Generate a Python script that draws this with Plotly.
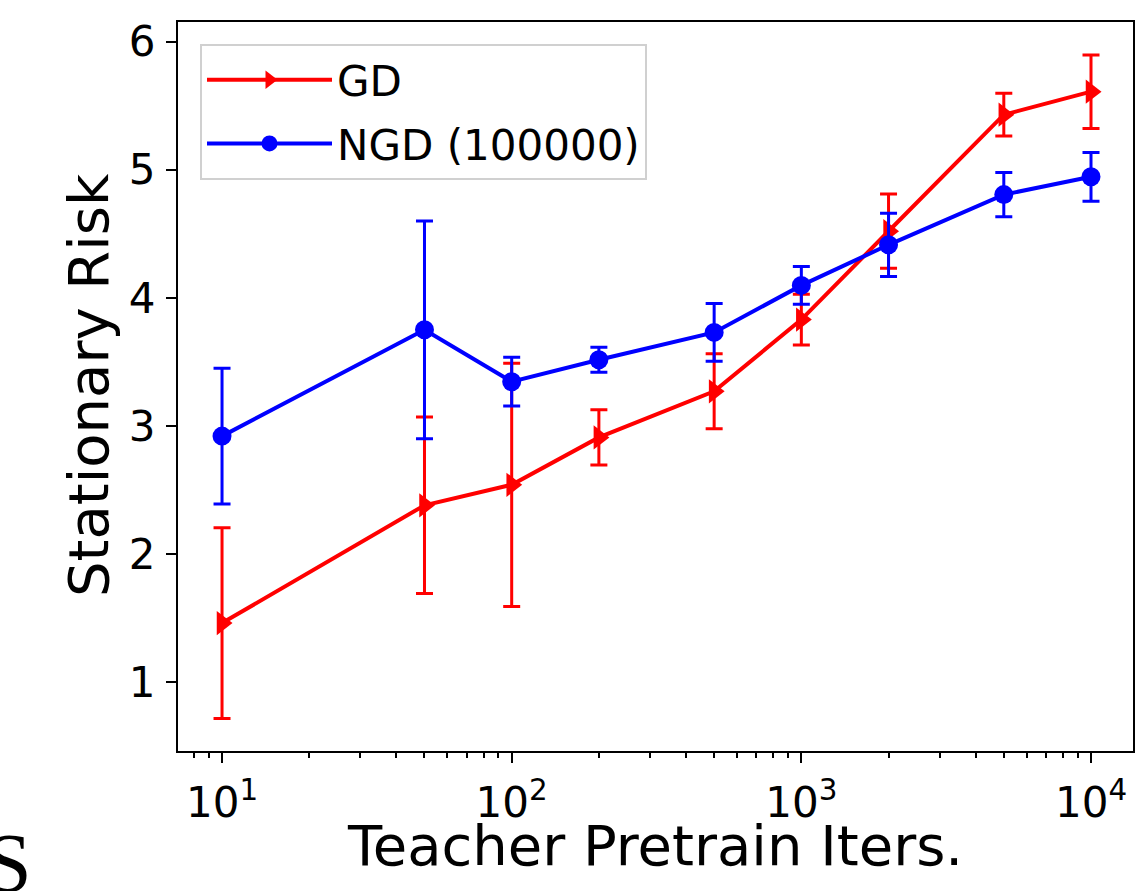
import plotly.graph_objects as go

# ---- data ----
iters = [10, 50, 100, 200, 500, 1000, 2000, 5000, 10000]

gd_mean = [1.46, 2.38, 2.54, 2.91, 3.27, 3.83, 4.52, 5.43, 5.61]
gd_err = [0.745, 0.69, 0.95, 0.215, 0.293, 0.198, 0.29, 0.167, 0.287]

ngd_mean = [2.92, 3.75, 3.345, 3.516, 3.73, 4.097, 4.414, 4.806, 4.945]
ngd_err = [0.53, 0.85, 0.19, 0.098, 0.225, 0.147, 0.247, 0.172, 0.19]

x_tickvals = [10, 100, 1000, 10000]
x_ticktext = ["10<sup>1</sup>", "10<sup>2</sup>", "10<sup>3</sup>", "10<sup>4</sup>"]
y_tickvals = [1, 2, 3, 4, 5, 6]
y_ticktext = ["1", "2", "3", "4", "5", "6"]

x_title = "Teacher Pretrain Iters."
y_title = "Stationary Risk"

FONT = "DejaVu Sans"
RED = "#ff0000"
BLUE = "#0000ff"

# plot-area geometry in pixels (for placing titles as paper coordinates)
L, R, T, B = 178, 1133, 22, 751
W, H = R - L, B - T


def px_x(p):
    return (p - L) / W


def px_y(p):
    return (B - p) / H


fig = go.Figure()

fig.add_trace(go.Scatter(
    x=iters, y=gd_mean, name="GD", mode="lines+markers", legendgroup="gd",
    line=dict(color=RED, width=4),
    marker=dict(symbol="triangle-right", size=21, color=RED),
    error_y=dict(type="data", array=gd_err, visible=True,
                 color=RED, thickness=3, width=8.5),
))
fig.add_trace(go.Scatter(
    x=iters, y=ngd_mean, name="NGD (100000)", mode="lines+markers", legendgroup="ngd",
    line=dict(color=BLUE, width=4),
    marker=dict(symbol="circle", size=19, color=BLUE),
    error_y=dict(type="data", array=ngd_err, visible=True,
                 color=BLUE, thickness=3, width=8.5),
))

fig.update_layout(
    width=1137, height=891,
    margin=dict(l=L, r=1137 - R, t=T, b=891 - B, autoexpand=False),
    paper_bgcolor="white", plot_bgcolor="white",
    font=dict(family=FONT, size=42, color="black"),
    showlegend=True,
    legend=dict(
        x=px_x(200), y=px_y(44), xanchor="left", yanchor="top",
        bgcolor="rgba(255,255,255,0.8)", bordercolor="#d0d0d0", borderwidth=2,
        font=dict(family=FONT, size=42, color="black"),
        itemwidth=125, tracegroupgap=6, traceorder="grouped",
    ),
)

fig.update_xaxes(
    type="log", range=[0.848, 4.145],
    tickmode="array", tickvals=x_tickvals, ticktext=x_ticktext,
    ticks="outside", ticklen=10, tickwidth=2, tickcolor="black",
    ticklabelstandoff=4,
    minor=dict(ticks="outside", ticklen=5, tickwidth=1.5, tickcolor="black",
               dtick="D1", showgrid=False),
    showgrid=False, zeroline=False,
    showline=True, linecolor="black", linewidth=2, mirror=True,
    tickfont=dict(family=FONT, size=42),
)
fig.update_yaxes(
    range=[0.461, 6.154],
    tickmode="array", tickvals=y_tickvals, ticktext=y_ticktext,
    ticks="outside", ticklen=10, tickwidth=2, tickcolor="black",
    ticklabelstandoff=2,
    showgrid=False, zeroline=False,
    showline=True, linecolor="black", linewidth=2, mirror=True,
    tickfont=dict(family=FONT, size=42),
)

# axis titles
fig.add_annotation(
    text=x_title, xref="paper", yref="paper",
    x=px_x(655), y=px_y(846), xanchor="center", yanchor="middle",
    showarrow=False, font=dict(family=FONT, size=56, color="black"),
)
fig.add_annotation(
    text=y_title, xref="paper", yref="paper",
    x=px_x(89), y=px_y(385), xanchor="center", yanchor="middle",
    textangle=-90, showarrow=False, font=dict(family=FONT, size=56, color="black"),
)

# stray serif glyph cropped at the lower-left corner of the reference
fig.add_annotation(
    text="S", xref="paper", yref="paper",
    x=px_x(34), y=px_y(863),
    xanchor="right", yanchor="middle", showarrow=False,
    font=dict(family="Liberation Serif", size=84, color="black"),
)

fig.write_html("out.html")
